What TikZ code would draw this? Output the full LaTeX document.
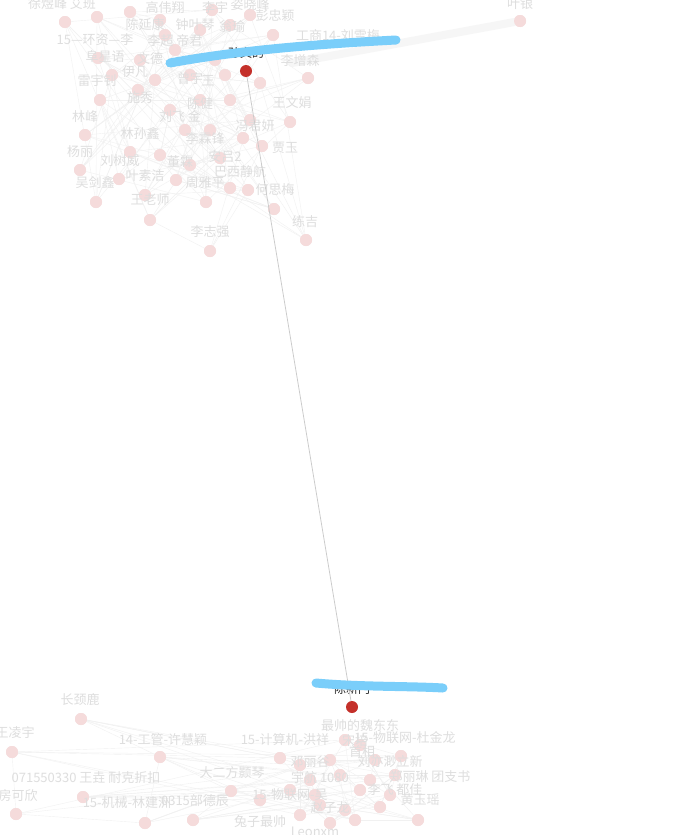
\documentclass[tikz,border=0pt]{standalone}
\usepackage{fontspec}
\setmainfont{Noto Sans CJK SC}
\usetikzlibrary{positioning}

\definecolor{dotpink}{RGB}{245,219,219}
\definecolor{fadetext}{RGB}{222,222,222}
\definecolor{fadeedge}{RGB}{241,241,241}
\definecolor{fadeband}{RGB}{246,246,246}
\definecolor{hubred}{RGB}{196,48,42}
\definecolor{linkgrey}{RGB}{204,204,204}
\definecolor{markblue}{RGB}{122,206,250}

\tikzset{
    dot/.style={circle, fill=dotpink, draw=none, minimum size=12pt, inner sep=0pt},
    hub/.style={circle, fill=hubred, draw=none, minimum size=12pt, inner sep=0pt},
    fadelabel/.style={text=fadetext, font=\fontsize{13}{15}\selectfont, inner sep=0pt},
    hublabel/.style={text=black!85, font=\fontsize{12}{14}\selectfont, inner sep=0pt},
    edge/.style={draw=fadeedge, line width=0.4pt},
    link/.style={draw=linkgrey, line width=0.8pt},
    marker/.style={draw=markblue, line width=9pt, line cap=round}
}

\begin{document}
\begin{tikzpicture}[x=1pt, y=-1pt]

\useasboundingbox (0,0) rectangle (672,835);
\clip (0,0) rectangle (672,835);
\fill[white] (0,0) rectangle (672,835);

% upper group, dots
\foreach \x/\y [count=\i] in {65/22, 97/17, 98/58, 100/100, 85/135, 80/170, 96/202, 150/220,
    210/251, 306/240, 274/209, 290/122, 308/78, 273/35, 260/83, 248/190, 230/188, 206/202,
    176/180, 145/195, 119/179, 130/152, 160/155, 190/165, 220/158, 243/138, 262/146, 250/120,
    230/100, 200/100, 170/110, 155/80, 140/60, 175/50, 200/30, 230/25, 250/15, 215/60,
    190/75, 160/20, 130/12, 112/75, 138/90, 185/130, 210/130, 225/75, 165/35, 212/10, 520/21}
    \node[dot] (t\i) at (\x,\y) {};

% lower group, dots
\foreach \x/\y [count=\i] in {81/719, 12/752, 160/757, 83/797, 16/814, 145/823, 193/820,
    231/791, 401/756, 380/807, 418/820, 360/745, 330/760, 300/765, 280/758, 290/790, 310/780,
    340/775, 360/790, 320/805, 345/810, 370/780, 390/795, 300/815, 330/823, 355/820, 260/800,
    345/740, 375/760, 315/795, 395/775}
    \node[dot] (b\i) at (\x,\y) {};

% pale band towards 叶银
\coordinate (bandstart) at (292,63);
\draw[draw=fadeband, line width=8pt, line cap=round] (bandstart) -- (t49);

% faint edges
\foreach \i in {1,...,48} {
    \pgfmathtruncatemacro\j{mod(\i*7,48)+1}
    \pgfmathtruncatemacro\k{mod(\i*13+5,48)+1}
    \pgfmathtruncatemacro\m{mod(\i*5+11,48)+1}
    \draw[edge] (t\i) -- (t\j);
    \draw[edge] (t\i) -- (t\k);
    \draw[edge] (t\i) -- (t\m);
}
\foreach \i in {1,...,31} {
    \pgfmathtruncatemacro\j{mod(\i*7,31)+1}
    \pgfmathtruncatemacro\k{mod(\i*11+3,31)+1}
    \pgfmathtruncatemacro\m{mod(\i*3+17,31)+1}
    \draw[edge] (b\i) -- (b\j);
    \draw[edge] (b\i) -- (b\k);
    \draw[edge] (b\i) -- (b\m);
}

% dots again, over the edges
\foreach \i in {1,...,49}
    \fill[dotpink] (t\i) circle (6);
\foreach \i in {1,...,31}
    \fill[dotpink] (b\i) circle (6);

% upper group, labels
\foreach \x/\y/\t [count=\i] in {62/4/徐煜峰 艾班, 165/8/高伟翔, 215/8/李宇, 250/5/姿晓峰,
    275/16/彭忠颖, 145/25/陈延康, 195/25/钟叶琴, 232/27/翁瑜, 95/40/15—环资—李,
    175/41/李超 帝君, 338/36/工商14-刘雪梅, 105/57/阜星语, 150/59/文德, 300/61/李增森,
    135/72/伊凡, 190/79/曾宇, 97/81/雷宇钊, 140/98/施秀, 208/81/王, 200/104/陈健,
    292/103/王文娟, 85/117/林峰, 180/117/刘飞 金, 255/126/冯君妍, 140/133/林孙鑫,
    205/139/李霖锋, 80/152/杨丽, 285/148/贾玉, 120/161/刘树威, 180/162/董霖,
    225/157/安吕2, 145/176/叶素洁, 205/183/周雅平, 240/172/巴西静航, 275/190/何思梅,
    95/183/吴剑鑫, 150/200/王老师, 305/222/练吉, 210/232/李志强, 520/4/叶银}
    \node[fadelabel] (tl\i) at (\x,\y) {\t};

% lower group, labels
\foreach \x/\y/\t [count=\i] in {80/700/长颈鹿, 15/733/王凌宇, 163/740/14-工管-许慧颖,
    285/740/15-计算机-洪祥, 360/726/最帅的魏东东, 405/738/15-物联网-杜金龙, 355/741/宋培,
    362/752/首相, 232/773/大二方颢琴, 86/778/071550330 王垚 耐克折扣, 18/796/房可欣,
    127/803/15-机械-林建洲, 195/801/0315部德辰, 390/762/刘亦渺立新, 430/777/郑丽琳 团支书,
    420/800/黄玉瑶, 260/822/兔子最帅, 290/795/15-物联网-吴, 320/778/宇航 1080,
    395/790/李飞 都佳, 330/808/赵子龙, 315/832/Leonxm, 310/762/邓丽谷}
    \node[fadelabel] (bl\i) at (\x,\y) {\t};

% the two highlighted people
\node[hub] (sun) at (246,71) {};
\node[hub] (chen) at (352,707) {};
\node[hublabel, above=6pt of sun] (sunlab) {孙文的};
\node[hublabel, above=6pt of chen] (chenlab) {陈新门};
\draw[link] (sun) -- (chen);

% hand-drawn marks
\draw[marker] (170,63) .. controls (240,50) and (320,44) .. (396,40);
\draw[marker] (316,683) .. controls (360,687) and (410,686) .. (443,688);

\end{tikzpicture}
\end{document}
